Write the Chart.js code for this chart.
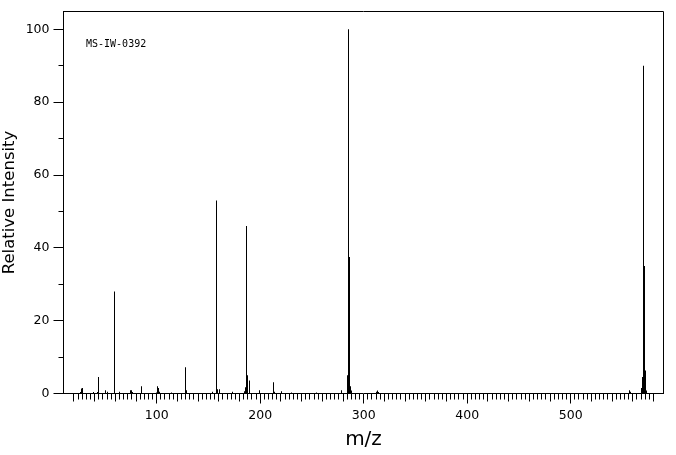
<!DOCTYPE html>
<html>
<head>
<meta charset="utf-8">
<script src="https://cdn.jsdelivr.net/npm/chart.js@4"></script>
<style>
  html, body { margin: 0; padding: 0; background: #fff; }
  canvas { display: block; }
</style>
</head>
<body>
<canvas id="msChart" width="676" height="455"></canvas>
<script>
// peaks (m/z, relative intensity)
var mz = [26, 27, 28, 39, 43, 44, 51, 52, 59, 64,
          75, 76, 77, 85, 100, 101, 102, 103, 114, 128,
          129, 154, 158, 159, 161, 173, 185, 186, 187, 188,
          190, 199, 213, 214, 221, 230, 254, 279, 284, 285,
          286, 287, 288, 312, 313, 314, 557, 558, 568, 569,
          570, 571, 572, 573];
var intensity = [0.4, 1.4, 1.5, 0.4, 0.4, 4.5, 0.9, 0.5, 28, 0.5,
                 0.9, 0.9, 0.4, 2.0, 0.3, 2.0, 1.5, 0.5, 0.3, 7.2,
                 0.9, 0.5, 53, 1.2, 1.2, 0.5, 0.6, 1.7, 46, 5.0,
                 3.6, 0.9, 3.1, 0.5, 0.6, 0.3, 0.3, 0.9, 5.0, 100,
                 37.5, 2.0, 0.8, 0.5, 0.8, 0.4, 0.9, 0.5, 1.5, 4.5,
                 90, 35, 6.3, 0.8];

var xTicks = [100, 200, 300, 400, 500];
var yTicks = [0, 20, 40, 60, 80, 100];
var yMinorTicks = [10, 30, 50, 70, 90];
var sampleCode = 'MS-IW-0392';

var points = mz.map(function(m, i){ return { x: m, y: intensity[i] }; });

// box edges, small ticks and the sample code
var framePlugin = {
  id: 'frame',
  beforeDatasetsDraw: function(chart) {
    // snap the 1px peaks onto whole pixels so they stay crisp
    chart.getDatasetMeta(0).data.forEach(function(bar){
      bar.x = Math.floor(bar.x) + 0.5;
    });
  },
  afterDraw: function(chart) {
    var ctx = chart.ctx, a = chart.chartArea;
    var xs = chart.scales.x, ys = chart.scales.y;
    ctx.save();
    ctx.strokeStyle = '#000';
    ctx.lineWidth = 1;
    ctx.beginPath();
    ctx.moveTo(a.left, a.top);
    ctx.lineTo(a.right, a.top);
    ctx.lineTo(a.right, a.bottom);
    for (var v = 20; v <= 580; v += 4) {
      if (v % 100 === 0) continue;
      var px = Math.round(xs.getPixelForValue(v) - 0.5) + 0.5;
      ctx.moveTo(px, a.bottom);
      ctx.lineTo(px, a.bottom + (v % 20 === 0 ? 8 : 6));
    }
    yMinorTicks.forEach(function(t){
      var py = Math.round(ys.getPixelForValue(t) - 0.5) + 0.5;
      ctx.moveTo(a.left - 5, py);
      ctx.lineTo(a.left, py);
    });
    ctx.stroke();

    ctx.fillStyle = '#000';
    ctx.font = '10px "DejaVu Sans Mono"';
    ctx.textBaseline = 'alphabetic';
    ctx.textAlign = 'left';
    ctx.fillText(sampleCode, a.left + 22.5, a.top + 35.5);
    ctx.restore();
  }
};

var tickFont = { family: 'DejaVu Sans', size: 12.5 };

var msChart = new Chart(document.getElementById('msChart'), {
  type: 'bar',
  data: {
    datasets: [{
      data: points,
      backgroundColor: '#000',
      borderWidth: 0,
      barThickness: 1,
      inflateAmount: 0
    }]
  },
  options: {
    responsive: false,
    animation: false,
    events: [],
    layout: { padding: { top: 9.5, right: 12.5, left: 0, bottom: 0 } },
    plugins: {
      legend: { display: false },
      tooltip: { enabled: false }
    },
    scales: {
      x: {
        type: 'linear',
        min: 9.95,
        max: 589.66,
        offset: false,
        afterBuildTicks: function(s){ s.ticks = xTicks.map(function(v){ return { value: v }; }); },
        afterFit: function(s){ s.height = 61.5; },
        grid: { drawOnChartArea: false, tickLength: 10, color: '#000', offset: false },
        border: { color: '#000' },
        ticks: { color: '#000', font: tickFont, padding: 4.5, maxRotation: 0, autoSkip: false },
        title: {
          display: true, text: 'm/z', color: '#000',
          font: { family: 'DejaVu Sans', size: 20 },
          padding: { top: 0, bottom: 3 }
        }
      },
      y: {
        min: 0,
        max: 104.9,
        afterBuildTicks: function(s){ s.ticks = yTicks.map(function(v){ return { value: v }; }); },
        afterFit: function(s){ s.width = 63.5; },
        grid: { drawOnChartArea: false, tickLength: 10, color: '#000' },
        border: { color: '#000' },
        ticks: { color: '#000', font: tickFont, padding: 4 },
        title: {
          display: true, text: 'Relative Intensity', color: '#000',
          font: { family: 'DejaVu Sans', size: 16.5 },
          padding: { top: 0, bottom: 0 }
        }
      }
    }
  },
  plugins: [framePlugin]
});
</script>
</body>
</html>
